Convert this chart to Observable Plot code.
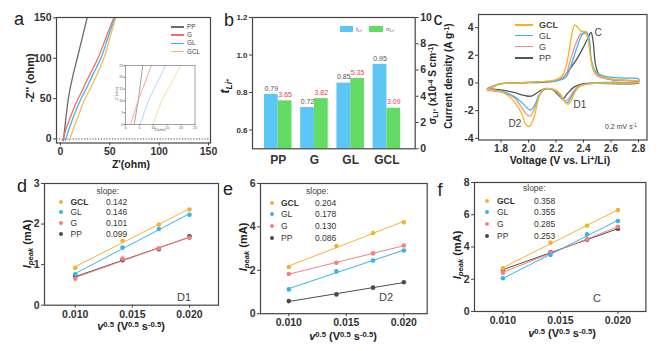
<!DOCTYPE html>
<html><head><meta charset="utf-8">
<script src="https://cdn.jsdelivr.net/npm/d3@7"></script>
<script src="https://cdn.jsdelivr.net/npm/@observablehq/plot@0.6"></script>
<style>
body{margin:0;background:#fff;}
#fig{position:relative;width:663px;height:351px;overflow:hidden;background:#fff;font-family:"Liberation Sans",Arial,Helvetica,sans-serif;color:#222;}
.lab{position:absolute;white-space:nowrap;line-height:1;}
sub,sup{font-size:70%;line-height:0;position:relative;vertical-align:baseline;}
sup{top:-0.45em;} sub{bottom:-0.3em;}
.sw{position:absolute;}
</style>
</head><body><div id="fig"></div>
<script>
// ---------------- DATA ----------------
const seriesNames = ["GCL", "GL", "G", "PP"];
const seriesColors = ["#f5b22c", "#36b4ef", "#f77f7e", "#4a4a4a"];

// (a) Nyquist plot: [Z', -Z'']
const eisPP  = [[3,-2],[5,20],[8,50],[12,75],[17,100],[22,125],[27,150]];
const eisG   = [[2.5,-2],[5,10],[10,27],[16,45],[22,60],[29,78],[38,100],[46,125],[54,150]];
const eisGL  = [[5,-2],[8,10],[13,27],[19,45],[26,62],[33,80],[41,100],[48,125],[55,150]];
const eisGCL = [[9,-2],[13,12],[18,28],[23,45],[30,62],[37,80],[44,100],[50,125],[56,150]];
const insetPP  = [[3.1,0],[4.6,10],[6.2,25]];
const insetG   = [[1.8,0],[4.5,10],[9.3,25]];
const insetGL  = [[5.3,0],[8.2,10],[14.4,25]];
const insetGCL = [[9.9,0],[13,10],[19.8,25]];

// (b) transference number and conductivity
const categories = ["PP", "G", "GL", "GCL"];
const tLi = [0.79, 0.72, 0.85, 0.95];
const sigmaLi = [3.65, 3.82, 5.35, 3.09];

// (c) CV curves at 0.2 mV/s: [V, current density]
const cvGCL = [[1.70,-0.45],[1.75,-0.2],[1.80,-0.05],[1.90,0.0],[2.00,0.05],[2.10,0.1],[2.20,0.25],[2.25,0.6],[2.28,1.5],[2.31,3.2],[2.335,4.2],[2.36,4.0],[2.38,3.75],[2.41,3.7],[2.43,3.3],[2.45,2.0],[2.47,1.0],[2.50,0.6],[2.60,0.3],[2.70,0.2],[2.80,0.15],
  [2.80,0.05],[2.60,0.0],[2.45,-0.05],[2.38,-0.2],[2.34,-0.6],[2.31,-1.3],[2.285,-1.55],[2.26,-1.3],[2.23,-0.8],[2.18,-0.45],[2.13,-0.4],[2.10,-0.5],[2.07,-1.2],[2.04,-2.5],[2.005,-3.15],[1.98,-3.0],[1.95,-2.2],[1.90,-1.4],[1.85,-0.9],[1.80,-0.65],[1.70,-0.45]];
const cvGL = [[1.70,-0.4],[1.75,-0.2],[1.80,-0.05],[1.90,0.0],[2.00,0.05],[2.10,0.1],[2.20,0.15],[2.27,0.4],[2.30,1.0],[2.35,2.5],[2.39,3.5],[2.42,3.7],[2.44,3.3],[2.46,1.5],[2.49,0.8],[2.55,0.5],[2.70,0.35],[2.80,0.3],
  [2.80,0.1],[2.60,0.05],[2.45,-0.05],[2.37,-0.25],[2.33,-0.7],[2.30,-1.2],[2.28,-1.45],[2.25,-1.2],[2.22,-0.7],[2.17,-0.45],[2.12,-0.45],[2.08,-0.8],[2.05,-1.5],[2.015,-1.95],[1.99,-1.8],[1.95,-1.4],[1.90,-1.0],[1.85,-0.75],[1.80,-0.6],[1.70,-0.4]];
const cvG = [[1.70,-0.55],[1.75,-0.25],[1.80,-0.05],[1.90,0.0],[2.00,0.05],[2.10,0.1],[2.20,0.15],[2.27,0.6],[2.30,1.5],[2.35,3.0],[2.38,3.55],[2.40,3.6],[2.43,3.4],[2.45,2.0],[2.47,1.0],[2.50,0.5],[2.65,0.2],[2.80,0.1],
  [2.80,0.05],[2.60,0.0],[2.45,-0.05],[2.36,-0.25],[2.32,-0.7],[2.29,-1.15],[2.27,-1.3],[2.24,-1.1],[2.21,-0.65],[2.16,-0.45],[2.12,-0.45],[2.08,-0.9],[2.05,-1.7],[2.01,-2.4],[1.98,-2.2],[1.94,-1.6],[1.90,-1.1],[1.85,-0.8],[1.80,-0.65],[1.70,-0.55]];
const cvPP = [[1.70,-0.4],[1.75,-0.2],[1.80,-0.05],[1.90,0.0],[2.00,0.02],[2.10,0.05],[2.20,0.15],[2.25,0.4],[2.30,1.0],[2.35,1.7],[2.40,2.6],[2.43,3.2],[2.455,3.65],[2.47,3.0],[2.49,1.2],[2.52,0.5],[2.60,0.25],[2.80,0.1],
  [2.80,0.0],[2.50,-0.02],[2.40,-0.05],[2.33,-0.3],[2.28,-0.8],[2.25,-1.15],[2.22,-0.9],[2.18,-0.5],[2.12,-0.4],[2.07,-0.65],[2.02,-0.95],[1.97,-0.9],[1.90,-0.7],[1.80,-0.5],[1.70,-0.4]];

// (d,e,f) peak current vs square root of scan rate
const sqrtRate = [0.010, 0.01414, 0.01732, 0.020];
const peakD1 = {GCL: [0.92, 1.59, 1.99, 2.36], GL: [0.76, 1.42, 1.88, 2.23], G: [0.65, 1.15, 1.40, 1.66], PP: [0.71, 1.11, 1.38, 1.70]};
const peakD2 = {GCL: [2.15, 3.12, 3.72, 4.21], GL: [1.12, 1.95, 2.45, 2.91], G: [1.83, 2.35, 2.78, 3.14], PP: [0.58, 0.89, 1.20, 1.45]};
const peakC  = {GCL: [2.68, 4.27, 5.32, 6.29], GL: [2.06, 3.50, 4.78, 5.61], G: [2.41, 3.65, 4.47, 5.26], PP: [2.58, 3.67, 4.45, 5.13]};
const slopeD1 = ["0.142", "0.146", "0.101", "0.099"];
const slopeD2 = ["0.204", "0.178", "0.130", "0.086"];
const slopeC  = ["0.358", "0.355", "0.285", "0.253"];

// ---------------- HELPERS ----------------
const fig = document.getElementById("fig");
const FONT = "'Liberation Sans', Arial, Helvetica, sans-serif";
const colorOf = s => seriesColors[seriesNames.indexOf(s)];

function place(frame, options) {
  const m = 40;
  const svg = Plot.plot({
    width: frame.R - frame.L + 2 * m,
    height: frame.B - frame.T + 2 * m,
    marginLeft: m, marginRight: m, marginTop: m, marginBottom: m,
    style: {background: "transparent", overflow: "visible", fontFamily: FONT, color: "#333"},
    ...options
  });
  Object.assign(svg.style, {position: "absolute", left: (frame.L - m) + "px", top: (frame.T - m) + "px", maxWidth: "none"});
  fig.appendChild(svg);
}
function label(html, x, y, o = {}) {
  const d = document.createElement("div");
  d.className = "lab";
  d.innerHTML = html;
  d.style.left = x + "px";
  d.style.top = y + "px";
  const tx = o.align === "left" ? "0" : "-50%";
  d.style.transform = `translate(${tx},-50%)` + (o.rot ? ` rotate(${o.rot}deg)` : "");
  d.style.fontSize = (o.size || 10) + "px";
  d.style.fontWeight = o.bold ? "bold" : "normal";
  if (o.italic) d.style.fontStyle = "italic";
  d.style.color = o.color || "#222";
  fig.appendChild(d);
  return d;
}
function swatch(x, y, w, h, color, round) {
  const d = document.createElement("div");
  d.className = "sw";
  Object.assign(d.style, {left: x + "px", top: y + "px", width: w + "px", height: h + "px", background: color, borderRadius: round ? "50%" : "0"});
  fig.appendChild(d);
}
const xy = arr => arr.map(([x, y]) => ({x, y}));
const axisStyle = (size) => ({tickSize: 3, tickPadding: 2, label: null, fontSize: size, fontWeight: "bold", stroke: "#444", fill: "#333"});

// ---------------- PANEL A ----------------
const eisColors = {PP: "#6b6b6b", G: "#f76a6a", GL: "#3fb3f2", GCL: "#f4bd5a"};
place({L: 55.5, T: 16.5, R: 209.5, B: 142}, {
  x: {domain: [-4, 152]}, y: {domain: [-5, 150.5]},
  marks: [
    Plot.ruleY([0], {stroke: "#333", strokeDasharray: "1.2,1.6", strokeWidth: 0.9}),
    Plot.line(xy(eisPP), {x: "x", y: "y", stroke: eisColors.PP, strokeWidth: 1.3, curve: "catmull-rom"}),
    Plot.line(xy(eisG), {x: "x", y: "y", stroke: eisColors.G, strokeWidth: 1.3, curve: "catmull-rom"}),
    Plot.line(xy(eisGL), {x: "x", y: "y", stroke: eisColors.GL, strokeWidth: 1.3, curve: "catmull-rom"}),
    Plot.line(xy(eisGCL), {x: "x", y: "y", stroke: eisColors.GCL, strokeWidth: 1.3, curve: "catmull-rom"}),
    Plot.frame({stroke: "#444", strokeWidth: 1.2}),
    Plot.axisX({ticks: [0, 50, 100, 150], ...axisStyle(10.5)}),
    Plot.axisY({ticks: [0, 50, 100, 150], ...axisStyle(10.5)})
  ]
});
// inset
place({L: 125, T: 65, R: 194.5, B: 124}, {
  x: {domain: [0, 25]}, y: {domain: [0, 25]},
  marks: [
    Plot.line(xy(insetPP), {x: "x", y: "y", stroke: "#999", strokeWidth: 0.9}),
    Plot.line(xy(insetG), {x: "x", y: "y", stroke: "#f99", strokeWidth: 0.9}),
    Plot.line(xy(insetGL), {x: "x", y: "y", stroke: "#9fd6f7", strokeWidth: 0.9}),
    Plot.line(xy(insetGCL), {x: "x", y: "y", stroke: "#f8d89c", strokeWidth: 0.9}),
    Plot.frame({stroke: "#666", strokeWidth: 0.6}),
    Plot.axisX({ticks: [0, 5, 10, 15, 20, 25], tickSize: 1.2, tickPadding: 1, label: null, fontSize: 3.6, stroke: "#666", fill: "#555"}),
    Plot.axisY({ticks: [0, 5, 10, 15, 20, 25], tickSize: 1.2, tickPadding: 1, label: null, fontSize: 3.6, stroke: "#666", fill: "#555"})
  ]
});
label("-Z'' (ohm)", 117.5, 94, {size: 3.3, rot: -90, color: "#555"});
label("Z'(ohm)", 160, 131, {size: 3.3, color: "#555"});
label("-Z'' (ohm)", 30, 78, {size: 11, bold: true, rot: -90});
label("Z'(ohm)", 131, 163.5, {size: 10.5, bold: true});
label("a", 19, 19, {size: 18});
[["PP", 27], ["G", 35], ["GL", 43.3], ["GCL", 51.7]].forEach(([s, y]) => {
  swatch(171, y - 0.7, 13, 1.4, eisColors[s]);
  label(s, 187, y, {size: 6.3, align: "left", color: "#444"});
});

// ---------------- PANEL B ----------------
const yBase = 0.5, sigmaToLeft = 0.07; // right axis 0..10 maps onto left axis 0.5..1.2
const catIdx = categories.map((c, i) => i);
place({L: 252.3, T: 16.7, R: 415, B: 148}, {
  x: {domain: [-0.71, 3.78]}, y: {domain: [0.5, 1.2]},
  marks: [
    Plot.rectY(catIdx, {x1: i => i - 0.38, x2: i => i, y1: yBase, y2: i => tLi[i], fill: "#5cc7f6"}),
    Plot.rectY(catIdx, {x1: i => i, x2: i => i + 0.38, y1: yBase, y2: i => yBase + sigmaLi[i] * sigmaToLeft, fill: "#63dc63"}),
    Plot.text(catIdx, {x: i => i - 0.19, y: i => tLi[i], text: i => tLi[i].toFixed(2), dy: -6, fontSize: 7, fill: "#555"}),
    Plot.text(catIdx, {x: i => i + 0.19, y: i => yBase + sigmaLi[i] * sigmaToLeft, text: i => sigmaLi[i].toFixed(2), dy: -6, fontSize: 7, fill: "#f23b3b"}),
    Plot.frame({stroke: "#444", strokeWidth: 1.2}),
    Plot.axisX({ticks: catIdx, tickFormat: i => categories[i], ...axisStyle(12), tickSize: 0, tickPadding: 7}),
    Plot.axisY({ticks: [0.6, 0.8, 1.0, 1.2], tickFormat: d3.format(".1f"), ...axisStyle(8)}),
    Plot.axisY(d3.range(0, 11, 2).map(v => yBase + v * sigmaToLeft), {anchor: "right", tickFormat: d => String(Math.round((d - yBase) / sigmaToLeft)), ...axisStyle(10.5)})
  ]
});
label("t<sub>Li<sup>+</sup></sub>", 225, 86, {size: 12, bold: true, italic: true, rot: -90});
label("σ<sub>Li<sup>+</sup></sub> (x10<sup>-4</sup> S cm<sup>-1</sup>)", 433, 84, {size: 10, bold: true, rot: -90});
label("b", 229, 20, {size: 18});
swatch(340, 26, 13, 6, "#5cc7f6");
label("t<sub>Li<sup>+</sup></sub>", 356, 29, {size: 6, italic: true, align: "left", color: "#555"});
swatch(369, 26, 14, 6, "#63dc63");
label("σ<sub>Li<sup>+</sup></sub>", 386, 29, {size: 6, italic: true, align: "left", color: "#555"});

// ---------------- PANEL C ----------------
const cvColors = {GCL: "#f6b51c", GL: "#3ab5ef", G: "#f68d8d", PP: "#555"};
place({L: 477.5, T: 14, R: 646, B: 139.5}, {
  x: {domain: [1.636, 2.862]}, y: {domain: [-4.12, 4.95]},
  marks: [
    Plot.line(xy(cvPP), {x: "x", y: "y", stroke: cvColors.PP, strokeWidth: 1.3, curve: "catmull-rom"}),
    Plot.line(xy(cvG), {x: "x", y: "y", stroke: cvColors.G, strokeWidth: 1.3, curve: "catmull-rom"}),
    Plot.line(xy(cvGL), {x: "x", y: "y", stroke: cvColors.GL, strokeWidth: 1.3, curve: "catmull-rom"}),
    Plot.line(xy(cvGCL), {x: "x", y: "y", stroke: cvColors.GCL, strokeWidth: 1.3, curve: "catmull-rom"}),
    Plot.frame({stroke: "#444", strokeWidth: 1.2}),
    Plot.axisX({ticks: [1.8, 2.0, 2.2, 2.4, 2.6, 2.8], tickFormat: d3.format(".1f"), ...axisStyle(10)}),
    Plot.axisY({ticks: [-4, -2, 0, 2, 4], tickFormat: d => String(d), ...axisStyle(10.5)})
  ]
});
label("Current density (A g<sup>-1</sup>)", 449, 76, {size: 10, bold: true, rot: -90});
label("Voltage (V vs. Li<sup>+</sup>/Li)", 560, 160, {size: 10.5, bold: true});
label("c", 438, 19, {size: 18});
[["GCL", 25], ["GL", 35.5], ["G", 46.5], ["PP", 58]].forEach(([s, y]) => {
  swatch(515, y - 0.8, 18, 1.6, cvColors[s]);
  label(s, 539, y, {size: 9, align: "left", bold: s === "GCL", color: "#444"});
});
label("C", 598, 33, {size: 10, color: "#444"});
label("D1", 580, 105, {size: 10, color: "#444"});
label("D2", 515, 124, {size: 10, color: "#444"});
label("0.2 mV s<sup>-1</sup>", 621, 126, {size: 7, color: "#444"});

// ---------------- PANELS D, E, F ----------------
function kineticsPanel(frame, xDomain, yDomain, yTicks, peaks) {
  const marks = [];
  ["PP", "G", "GL", "GCL"].forEach(s => {
    const rows = sqrtRate.map((x, i) => ({x, y: peaks[s][i]}));
    marks.push(Plot.linearRegressionY(rows, {x: "x", y: "y", stroke: colorOf(s), strokeWidth: 1, ci: 0}));
    marks.push(Plot.dot(rows, {x: "x", y: "y", fill: colorOf(s), r: 2.3}));
  });
  marks.push(Plot.frame({stroke: "#444", strokeWidth: 1.2}));
  marks.push(Plot.axisX({ticks: [0.010, 0.015, 0.020], tickFormat: d3.format(".3f"), ...axisStyle(10.5)}));
  marks.push(Plot.axisY({ticks: yTicks, tickFormat: d => String(d), ...axisStyle(10.5)}));
  place(frame, {x: {domain: xDomain}, y: {domain: yDomain}, marks});
}
function slopeLegend(hdr, dotX, labX, valX, rows, slopes) {
  label("slope:", hdr[0], hdr[1], {size: 8.5, align: "left", color: "#444"});
  seriesNames.forEach((s, i) => {
    swatch(dotX - 2.2, rows[i] - 2.2, 4.4, 4.4, colorOf(s), true);
    label(s, labX, rows[i], {size: 8.5, align: "left", bold: s === "GCL", color: "#333"});
    label(slopes[i], valX, rows[i], {size: 8.5, align: "left", color: "#333"});
  });
}
const yLab = "<i>I</i><sub><i>peak</i></sub> (mA)";
const xLab = "<i>v</i><sup>0.5</sup> (V<sup>0.5</sup> s<sup>-0.5</sup>)";

kineticsPanel({L: 44.3, T: 183.3, R: 218.3, B: 305}, [0.00731, 0.02254], [0, 3], [0, 1, 2, 3], peakD1);
slopeLegend([96.5, 190.7], 60.7, 70.5, 106, [201.7, 212.3, 223.3, 234.3], slopeD1);
label("D1", 184, 297, {size: 11, color: "#444"});
label(yLab, 27, 244, {size: 11, bold: true, rot: -90});
label(xLab, 131, 326, {size: 11, bold: true});
label("d", 22, 186, {size: 18});

kineticsPanel({L: 260, T: 183.3, R: 426.7, B: 313.5}, [0.00754, 0.02203], [0, 6], [0, 2, 4, 6], peakD2);
slopeLegend([306, 190.7], 271.7, 281, 315, [202.7, 214.3, 226, 238.3], slopeD2);
label("D2", 386, 297, {size: 11, color: "#444"});
label(yLab, 243, 247, {size: 11, bold: true, rot: -90});
label(xLab, 343, 336, {size: 11, bold: true});
label("e", 228, 189, {size: 18});

kineticsPanel({L: 474.3, T: 181.7, R: 645.7, B: 310.7}, [0.00753, 0.02243], [0, 8], [0, 2, 4, 6, 8], peakC);
slopeLegend([523, 188], 487.3, 497, 534, [200.7, 212.3, 224, 235.7], slopeC);
label("C", 597, 298, {size: 11, color: "#444"});
label(yLab, 457, 255, {size: 11, bold: true, rot: -90});
label(xLab, 562, 333, {size: 11, bold: true});
label("f", 440, 190, {size: 18});
</script>
</body></html>
